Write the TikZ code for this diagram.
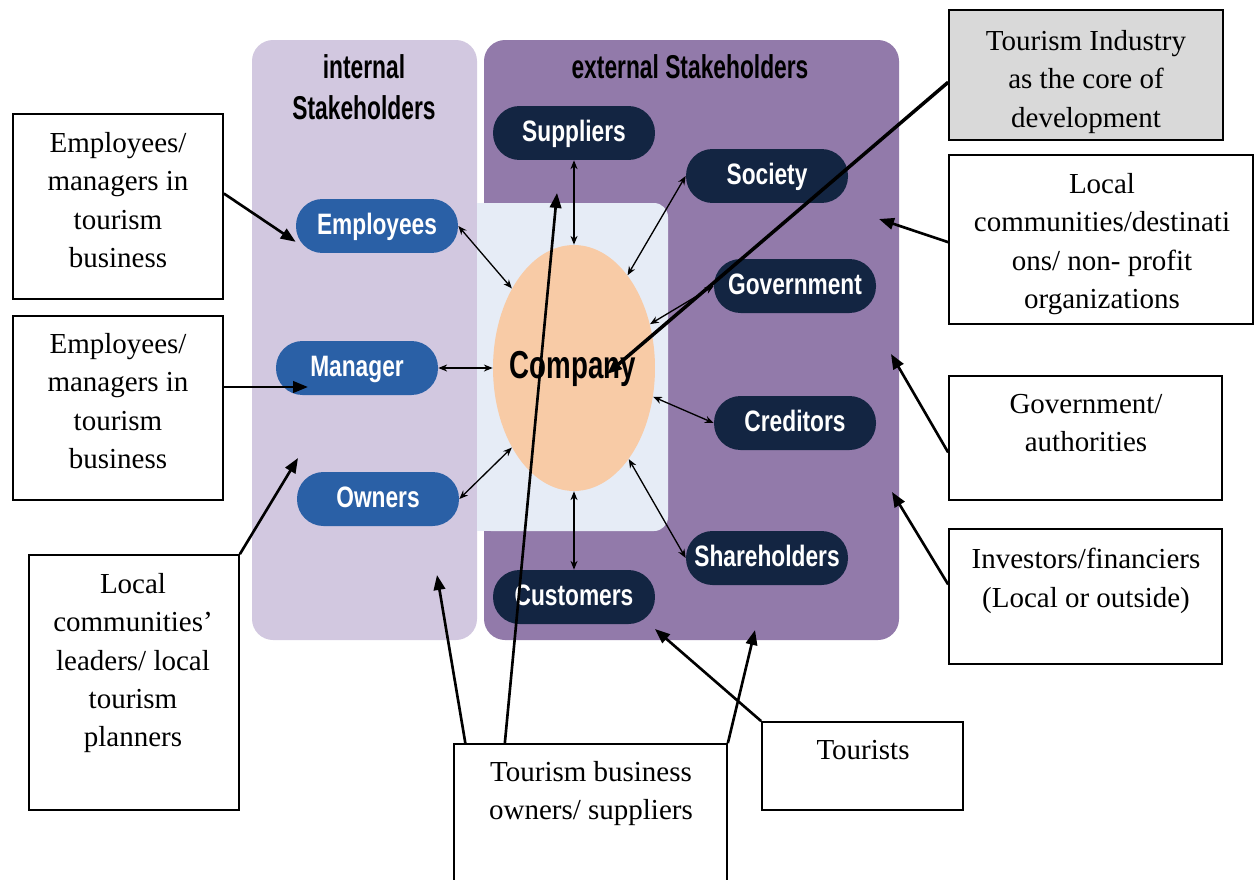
\documentclass[tikz,border=0pt]{standalone}
\usepackage{fontspec}
\setmainfont{Liberation Serif}
\newfontfamily\pillfont{Liberation Sans}[FakeStretch=0.77]
\newfontfamily\headfont{Liberation Sans}[FakeStretch=0.69]
\newfontfamily\compfont{Liberation Sans}[FakeStretch=0.71]
\usetikzlibrary{shapes.geometric,arrows.meta}
\definecolor{intpanel}{HTML}{D2C8E0}
\definecolor{extpanel}{HTML}{927AAA}
\definecolor{corebox}{HTML}{E6ECF6}
\definecolor{peach}{HTML}{F8CBA6}
\definecolor{intpill}{HTML}{2A60A6}
\definecolor{extpill}{HTML}{132542}
\definecolor{graybox}{HTML}{D9D9D9}
\begin{document}
\begin{tikzpicture}[x=0.02cm,y=-0.02cm,
  pill/.style={rounded corners=0.53cm, minimum width=3.24cm, minimum height=1.08cm, inner sep=0pt, text=white,
    font=\pillfont\bfseries\fontsize{16.8}{20}\selectfont, text height=12pt, text depth=2.35pt},
  intpillst/.style={pill, fill=intpill},
  extpillst/.style={pill, fill=extpill},
  tbox/.style={draw=black, line width=1pt, fill=white, inner sep=0pt},
  ttext/.style={font=\fontsize{16.5}{21.8}\selectfont, align=center, inner sep=0pt, anchor=north},
  head/.style={font=\headfont\bfseries\fontsize{18.8}{23.3}\selectfont, inner sep=0pt},
  biarrow/.style={line width=0.75pt, {Stealth[length=5pt,width=4pt]}-{Stealth[length=5pt,width=4pt]}},
  callout/.style={line width=1.5pt, -{Triangle[length=8.5pt,width=6.5pt]}},
]
\useasboundingbox (0,0) rectangle (1256,879);
\fill[white] (0,0) rectangle (1256,879);
% panels
\fill[intpanel, rounded corners=12pt] (252,40) rectangle (477,640);
\fill[extpanel, rounded corners=12pt] (484,40) rectangle (899,640);
\fill[corebox, rounded corners=8pt] (477,203) rectangle (668,531);
\fill[corebox] (477,203) rectangle (600,531);
% company
\node[ellipse, fill=peach, minimum width=3.24cm, minimum height=4.92cm, inner sep=0pt] (comp) at (574,368) {};
\node[font=\compfont\bfseries\fontsize{22.2}{26}\selectfont, inner sep=0pt, text height=15.9pt, text depth=3pt] (compt) at (573,367) {Company};
% headings
\node[head, align=center, anchor=north] (ih) at (364,54.5) {internal\\Stakeholders};
\node[head, anchor=base] (eh) at (690,78) {external Stakeholders};
% pills
\node[intpillst] (emp) at (377,226) {Employees};
\node[intpillst] (man) at (357,368) {Manager};
\node[intpillst] (own) at (378,499) {Owners};
\node[extpillst] (sup) at (574,133) {Suppliers};
\node[extpillst] (soc) at (767,176) {Society};
\node[extpillst] (govp) at (795,286) {Government};
\node[extpillst] (cred) at (795,423) {Creditors};
\node[extpillst] (sh) at (767,558) {Shareholders};
\node[extpillst] (cust) at (574,597) {Customers};
% thin double arrows
\draw[biarrow] (sup.south) -- (comp.north);
\draw[biarrow] (emp.east) -- (comp.128);
\draw[biarrow] (soc.west) -- (comp.60);
\draw[biarrow] (govp.west) -- (comp.30);
\draw[biarrow] (man.east) -- (comp.west);
\draw[biarrow] (cred.west) -- (comp.-20);
\draw[biarrow] (own.east) -- (comp.232);
\draw[biarrow] (sh.west) -- (comp.-59);
\draw[biarrow] (cust.north) -- (comp.south);
% text boxes
\node[tbox, minimum width=4.2cm, minimum height=3.7cm] (b1) at (118,206.5) {};
\node[ttext] (b1t) at (118,132) {Employees/\\managers in\\tourism\\business};
\node[tbox, minimum width=4.2cm, minimum height=3.68cm] (b2) at (118,408) {};
\node[ttext] (b2t) at (118,333) {Employees/\\managers in\\tourism\\business};
\node[tbox, minimum width=4.2cm, minimum height=5.1cm] (b3) at (134,682.5) {};
\node[ttext] (b3t) at (133,573) {Local\\communities’\\leaders/ local\\tourism\\planners};
\node[tbox, minimum width=5.46cm, minimum height=2.74cm] (b4) at (590.5,812.5) {};
\node[ttext] (b4t) at (591,761) {Tourism business\\owners/ suppliers};
\node[tbox, minimum width=4.02cm, minimum height=1.76cm] (tour) at (862.5,766) {};
\node[ttext] (tourt) at (863,740) {Tourists};
\node[tbox, fill=graybox, minimum width=5.48cm, minimum height=2.6cm] (ind) at (1086,75) {};
\node[ttext] (indt) at (1086,30) {Tourism Industry\\as the core of\\development};
\node[tbox, minimum width=6.08cm, minimum height=3.38cm] (loc) at (1101,239.5) {};
\node[ttext] (loct) at (1102,173) {Local\\communities/destinati\\ons/ non- profit\\organizations};
\node[tbox, minimum width=5.46cm, minimum height=2.48cm] (govb) at (1085.5,438) {};
\node[ttext] (govbt) at (1086,394) {Government/\\authorities};
\node[tbox, minimum width=5.46cm, minimum height=2.7cm] (inv) at (1085.5,596.5) {};
\node[ttext] (invt) at (1086,548) {Investors/financiers\\(Local or outside)};
% callout arrow targets
\coordinate (mtip) at (308,387);
\coordinate (c3) at (298,458);
\coordinate (c4a) at (437,575);
\coordinate (c4b) at (557,193);
\coordinate (c4c) at (755,630);
\coordinate (c5) at (655,629);
\coordinate (c6) at (607,374);
\coordinate (c7) at (879,219);
\coordinate (c8) at (891,354);
\coordinate (c9) at (892,492);
% callout arrows
\draw[callout] (b1.7) -- (emp.191);
\draw[callout] (b2.east |- mtip) -- (mtip);
\draw[callout] (b3.north east) -- (c3);
\draw[callout] (b4.151) -- (c4a);
\draw[callout] (b4.141) -- (c4b);
\draw[callout] (b4.north east) -- (c4c);
\draw[callout] (tour.north west) -- (c5);
\draw[callout, line width=2pt] (ind.183) -- (c6);
\draw[callout] (loc.181) -- (c7);
\draw[callout] (govb.186) -- (c8);
\draw[callout] (inv.175) -- (c9);
\end{tikzpicture}
\end{document}
